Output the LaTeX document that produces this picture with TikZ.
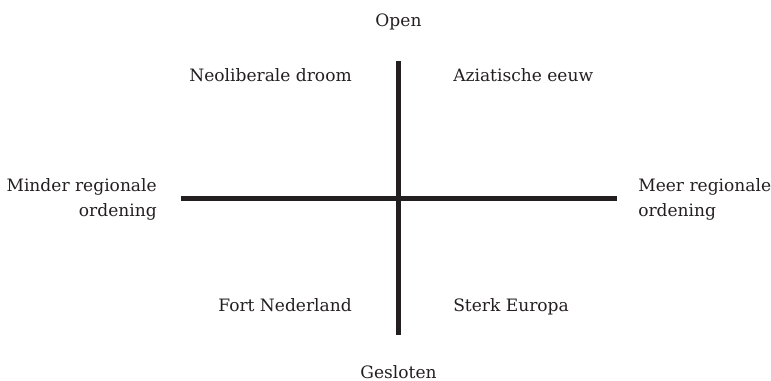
\documentclass[tikz,border=0pt]{standalone}
\usepackage{fontspec}
\setmainfont{DejaVu Serif}
\definecolor{ink}{HTML}{231F20}
\begin{document}
\begin{tikzpicture}[x=0.75pt,y=-0.75pt,
  axis/.style={draw=ink,line width=3.9pt},
  lbl/.style={inner sep=0pt,text=ink,font=\fontsize{12.8}{18.75}\selectfont}]
\useasboundingbox (0,0) rectangle (771,381);
\coordinate (top) at (398.5,61);
\coordinate (bot) at (398.5,334.5);
\coordinate (lft) at (180.5,198.3);
\coordinate (rgt) at (616.5,198.3);
\draw[axis] (top) -- (bot);
\draw[axis] (lft) -- (rgt);
\node[lbl,anchor=base] (open) at (398.5,26.7) {Open};
\node[lbl,anchor=base] (gesloten) at (398.5,378) {Gesloten};
\node[lbl,anchor=base east] (nd) at (352,81.7) {Neoliberale droom};
\node[lbl,anchor=base west] (ae) at (453,81.7) {Aziatische eeuw};
\node[lbl,anchor=base east] (fn) at (352,311.7) {Fort Nederland};
\node[lbl,anchor=base west] (se) at (453,311.7) {Sterk Europa};
\node[lbl,anchor=base east,align=right] (mro) at (157,216.5) {Minder regionale\\ordening};
\node[lbl,anchor=base west,align=left] (meer) at (638,216.5) {Meer regionale\\ordening};
\end{tikzpicture}
\end{document}
